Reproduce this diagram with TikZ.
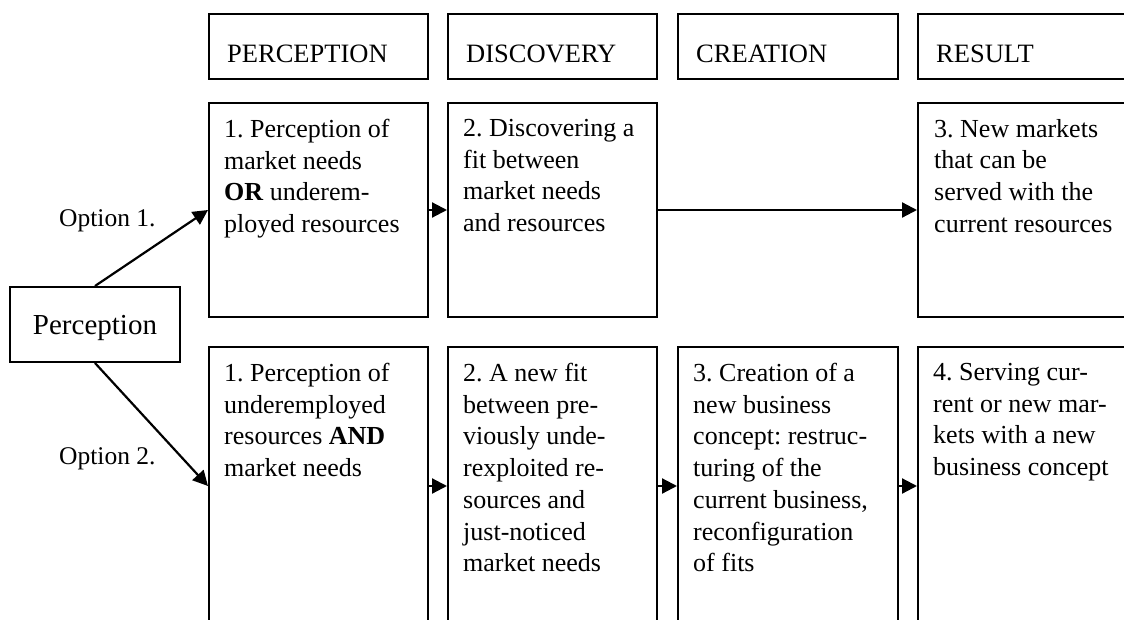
\documentclass[tikz,border=0pt]{standalone}
\usepackage{fontspec}
\setmainfont{Liberation Serif}
\usetikzlibrary{arrows.meta,positioning}
\definecolor{FlowLine}{HTML}{000000}
\frenchspacing

\begin{document}
\begin{tikzpicture}[x=1pt,y=-1pt,
    frame/.style={draw=FlowLine,line width=2pt,inner sep=0pt,anchor=north west},
    flow/.style={draw=FlowLine,line width=2.2pt,-{Triangle[length=15pt,width=15pt]}},
    boxtext/.style={anchor=north west,inner sep=0pt,align=left,
      font=\fontsize{26}{31.7}\selectfont},
    headtext/.style={anchor=base west,inner sep=0pt,font=\fontsize{26.5}{30}\selectfont},
    optlabel/.style={anchor=base west,inner sep=0pt,font=\fontsize{25.5}{30}\selectfont}]
  \useasboundingbox (0,0) rectangle (1124,620);
  \clip (0,0) rectangle (1124,620);

  % column headers
  \foreach \n/\x/\w/\t in {
    hdrPerc/208/219/PERCEPTION,
    hdrDisc/447/209/DISCOVERY,
    hdrCrea/677/220/CREATION,
    hdrRes/917/240/RESULT
  }{
    \node[frame,minimum width=\w pt,minimum height=65pt] (\n) at (\x,13) {};
    \node[headtext] at (\x+19,63) {\t};
  }

  % option 1 row
  \node[frame,minimum width=219pt,minimum height=214pt] (optA1) at (208,102) {};
  \node[frame,minimum width=209pt,minimum height=214pt] (optA2) at (447,102) {};
  \node[frame,minimum width=240pt,minimum height=214pt] (optA3) at (917,102) {};
  \node[boxtext] at (224,119) {1. Perception of\\market needs\\\textbf{OR} underem-\\ployed resources};
  \node[boxtext] at (463,119) {2. Discovering a\\fit between\\market needs\\and resources};
  \node[boxtext] at (934,119) {3. New markets\\that can be\\served with the\\current resources};

  % option 2 row
  \node[frame,minimum width=219pt,minimum height=278pt] (optB1) at (208,346) {};
  \node[frame,minimum width=209pt,minimum height=278pt] (optB2) at (447,346) {};
  \node[frame,minimum width=220pt,minimum height=278pt] (optB3) at (677,346) {};
  \node[frame,minimum width=240pt,minimum height=278pt] (optB4) at (917,346) {};
  \node[boxtext] at (224,363) {1. Perception of\\underemployed\\resources \textbf{AND}\\market needs};
  \node[boxtext] at (463,363) {2. A new fit\\between pre-\\viously unde-\\rexploited re-\\sources and\\just-noticed\\market needs};
  \node[boxtext] at (693,363) {3. Creation of a\\new business\\concept: restruc-\\turing of the\\current business,\\reconfiguration\\of fits};
  \node[boxtext] at (933,363) {4. Serving cur-\\rent or new mar-\\kets with a new\\business concept};

  % start
  \node[frame,anchor=center,minimum width=170pt,minimum height=75pt,text depth=0pt,
    font=\fontsize{29}{34}\selectfont] (perc) at (95,324.5) {Perception};
  \node[optlabel] (opt1) at (59,227) {Option 1.};
  \node[optlabel] (opt2) at (59,464) {Option 2.};

  \draw[flow] (perc.north) -- (optA1.west);
  \draw[flow] (perc.south) -- (optB1.west);
  \draw[flow] (optA1.east) -- (optA2.west);
  \draw[flow] (optA2.east) -- (optA3.west);
  \draw[flow] (optB1.east) -- (optB2.west);
  \draw[flow] (optB2.east) -- (optB3.west);
  \draw[flow] (optB3.east) -- (optB4.west);
\end{tikzpicture}
\end{document}
